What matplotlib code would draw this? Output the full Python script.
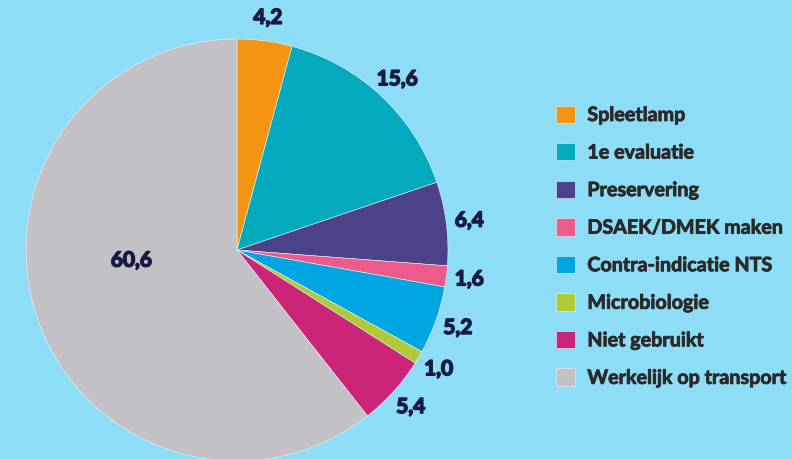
import numpy as np
import matplotlib
matplotlib.use("Agg")
import matplotlib.pyplot as plt
import matplotlib.patheffects as pe

categories = ["Spleetlamp", "1e evaluatie", "Preservering", "DSAEK/DMEK maken",
              "Contra-indicatie NTS", "Microbiologie", "Niet gebruikt",
              "Werkelijk op transport"]
values = [4.2, 15.6, 6.4, 1.6, 5.2, 1.0, 5.4, 60.6]
value_labels = ["4,2", "15,6", "6,4", "1,6", "5,2", "1,0", "5,4", "60,6"]
colors = ["#F39512", "#03AABD", "#4B4289", "#EC5B8C", "#00A6E2", "#AECB37",
          "#CB2577", "#C3C1C5"]

BG = "#8EDDF6"
LABEL_COLOR = "#161A45"
LEGEND_COLOR = "#2A2A2A"

W, H = 792, 459
fig = plt.figure(figsize=(W / 100, H / 100), dpi=100, facecolor=BG)
ax = fig.add_axes([0, 0, 1, 1])
ax.set_facecolor(BG)

cx, cy, r = 237, H - 250, 211
wedges, texts = ax.pie(values, colors=colors, startangle=90, counterclock=False,
                       center=(cx, cy), radius=r, labels=value_labels,
                       labeldistance=1.11,
                       wedgeprops=dict(linewidth=0.4, edgecolor="#E8F4F8"),
                       textprops=dict(fontsize=15, fontweight="bold",
                                      color=LABEL_COLOR, family="Lato"))
for t in texts:
    t.set_ha("center")
    t.set_va("center")
    t.set_path_effects([pe.withStroke(linewidth=1.1, foreground=LABEL_COLOR)])
# largest slice label placed inside
texts[-1].set_position((cx - 0.5 * r, cy - 0.05 * r))

ax.set_xlim(0, W)
ax.set_ylim(0, H)
ax.set_aspect("equal")
ax.set_axis_off()

leg = ax.legend(wedges, categories, loc="upper left",
                bbox_to_anchor=(556 / W, 1 - 105 / H),
                frameon=False, borderpad=0, borderaxespad=0,
                handlelength=0.97, handleheight=0.97,
                handletextpad=0.62, labelspacing=0.89,
                prop=dict(family="Lato", weight="bold", size=14.2))
for t in leg.get_texts():
    t.set_color(LEGEND_COLOR)
    t.set_path_effects([pe.withStroke(linewidth=0.6, foreground=LEGEND_COLOR)])

fig.savefig("out.png", dpi=100, facecolor=BG)
